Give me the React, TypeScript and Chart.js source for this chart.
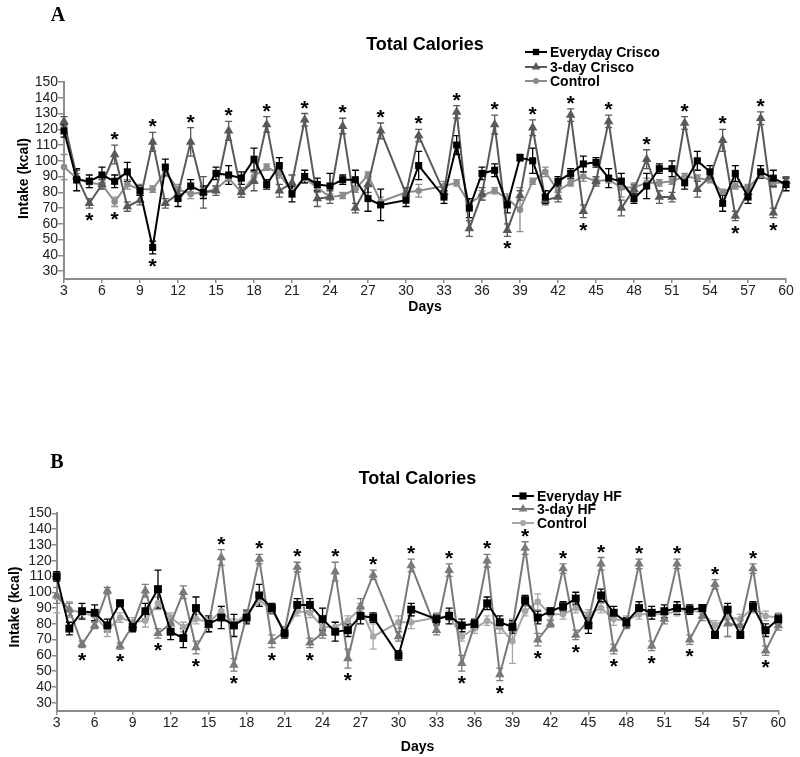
import React, { useEffect, useRef } from 'react';
import { Chart, registerables } from 'chart.js';

Chart.register(...registerables);

// ---------------- DATA ----------------
// Days 29 and 32 have no measurements in either panel
const days = [3,4,5,6,7,8,9,10,11,12,13,14,15,16,17,18,19,20,21,22,23,24,25,26,27,28,30,31,33,34,35,36,37,38,39,40,41,42,43,44,45,46,47,48,49,50,51,52,53,54,55,56,57,58,59,60];
const xTickValues = [3,6,9,12,15,18,21,24,27,30,33,36,39,42,45,48,51,54,57,60];
const yTickValues = [30,40,50,60,70,80,90,100,110,120,130,140,150];

// Panel A
const everydayCrisco = [119,88,87,91,87,93,81,45,96,76, 84,80,92,91,89,101,85,97,79,90, 85,84,88,88,76,72, 75,97, 77,110,70,92,94,72,102,100,77,87, 92,98,99,89,87,76,84,95,95,86, 100,93,73,92,77,93,89,85];
const everydayCriscoErr = [4,7,4,5,4,6,3,4,5,5, 4,4,4,6,4,7,3,5,5,4, 4,8,3,6,8,10, 4,9, 4,6,6,4,4,5,2,8,4,3, 3,5,3,6,5,3,8,3,5,4, 6,4,5,5,4,4,5,4];
const threeDayCrisco = [125,90,73,85,104,71,75,112,73,79, 112,80,81,119,80,87,123,81,86,126, 76,77,122,70,85,119, 79,116, 80,131,57,79,123,56,78,121,75,77, 129,68,87,125,70,82,101,77,77,124, 82,90,113,65,80,127,67,87];
const threeDayCriscoErr = [3,4,3,3,6,3,3,6,3,4, 9,10,3,6,3,6,5,4,5,4, 5,4,5,3,5,5, 4,4, 3,4,5,4,6,4,3,5,3,3, 4,4,3,4,5,3,6,4,3,4, 5,3,7,3,4,4,3,3];
const controlA = [96,89,86,85,74,85,82,82,93,82, 79,80,82,89,80,90,96,92,80,89, 83,77,78,82,91,74, 80,81, 84,86,73,78,81,76,69,87,93,81, 86,90,87,88,83,83,86,86,87,90, 89,88,80,84,83,91,86,86];
const controlAErr = [8,3,3,3,3,3,3,2,3,3, 3,3,2,2,3,3,2,3,3,3, 3,2,2,2,2,3, 3,4, 3,2,3,3,2,3,14,2,3,3, 2,3,2,2,6,3,3,2,2,2, 2,2,2,2,2,2,3,3];
const starsAboveA = [7,10,13,16,19,22,25,28,31,34,37,40,43,46,49,52,55,58];
const starsBelowA = [5,7,10,38,44,56,59];

// Panel B
const everydayHF = [110,77,88,87,79,93,78,88,102,75, 71,90,80,84,79,84,98,90,74,92, 92,83,75,76,85,84, 60,89, 83,85,79,80,93,81,78,95,84,88, 91,96,79,98,87,81,90,87,88,90, 89,90,73,89,73,91,76,83];
const everydayHFErr = [3,4,5,5,4,2,3,5,12,5, 6,7,5,7,7,4,7,3,3,4, 4,7,6,4,5,3, 3,4, 3,5,4,3,4,4,4,3,4,2, 3,4,5,4,4,3,4,4,4,4, 3,2,2,4,2,3,4,3];
const threeDayHF = [98,89,67,79,101,66,79,101,74,80, 100,65,79,122,54,85,121,69,75,116, 68,74,113,58,91,111, 72,117, 76,114,55,79,120,48,78,128,70,80, 115,73,82,118,64,80,118,66,83,118, 70,85,105,80,79,115,63,79];
const threeDayHFErr = [5,4,2,2,2,2,3,4,3,3, 4,4,4,5,4,4,3,4,3,3, 3,3,6,6,5,3, 3,4, 3,4,5,3,4,4,3,4,4,2, 3,3,3,4,3,3,3,3,3,3, 3,3,3,8,3,3,3,3];
const controlB = [97,89,87,85,76,84,81,82,93,84, 78,83,81,88,80,86,95,89,75,88, 87,78,78,82,90,72, 81,81, 84,85,72,77,82,78,69,88,94,86, 86,90,86,90,83,82,86,86,86,88, 89,87,79,84,83,90,85,84];
const controlBErr = [10,5,3,3,4,3,3,4,4,3, 3,3,3,3,3,3,3,3,3,3, 3,3,3,3,3,8, 4,4, 3,3,3,3,3,4,14,3,5,3, 3,3,3,3,4,3,3,3,3,3, 3,3,3,4,3,3,3,3];
const starsAboveB = [16,19,22,25,28,31,34,37,40,43,46,49,52,55,58];
const starsBelowB = [5,8,11,14,17,20,23,26,35,38,41,44,47,50,53,59];

// ---------------- STYLE ----------------
const SANS = '"Liberation Sans", Arial, Helvetica, sans-serif';
const SERIF = '"Liberation Serif", "Times New Roman", serif';
const AXIS = '#8c8c8c';

type MarkerStyle = 'rect' | 'triangle' | 'circle';
type Series = { label: string; values: number[]; errors: number[]; color: string; style: MarkerStyle; radius: number; width: number };

function capText(ctx: CanvasRenderingContext2D, text: string, x: number, y: number, size: number, family: string, align: CanvasTextAlign = 'center', capRatio = 0.716) {
  ctx.font = `bold ${size}px ${family}`;
  ctx.textAlign = align;
  ctx.textBaseline = 'alphabetic';
  ctx.fillText(text, x, y + (size * capRatio) / 2);
}

function drawMarker(ctx: CanvasRenderingContext2D, style: MarkerStyle, x: number, y: number, r: number, color: string) {
  ctx.fillStyle = color;
  ctx.beginPath();
  if (style === 'rect') {
    const s = r * Math.SQRT1_2;
    ctx.rect(x - s, y - s, 2 * s, 2 * s);
  } else if (style === 'triangle') {
    ctx.moveTo(x, y - r);
    ctx.lineTo(x + r * Math.sin(Math.PI / 3), y + r / 2);
    ctx.lineTo(x - r * Math.sin(Math.PI / 3), y + r / 2);
    ctx.closePath();
  } else {
    ctx.arc(x, y, r, 0, Math.PI * 2);
  }
  ctx.fill();
}

type PanelCfg = {
  letter: string; letterX: number; letterY: number;
  title: string; titleY: number;
  legendX: number; legendRows: number[];
  padding: { left: number; top: number; right: number; bottom: number };
  yAxisW: number; xAxisH: number; tickLenY: number;
  daysY: number; intakeX: number; intakeDy: number;
  series: Series[];
  starsAbove: number[]; starsBelow: number[];
};

const panelA: PanelCfg = {
  letter: 'A', letterX: 58, letterY: 14,
  title: 'Total Calories', titleY: 43.5,
  legendX: 525, legendRows: [52, 67, 81],
  padding: { left: 0, top: 82, right: 14, bottom: 0 },
  yAxisW: 64, xAxisH: 99, tickLenY: 6,
  daysY: 306, intakeX: 23, intakeDy: -2,
  series: [
    { label: 'Everyday Crisco', values: everydayCrisco, errors: everydayCriscoErr, color: '#000000', style: 'rect', radius: 5, width: 2 },
    { label: '3-day Crisco', values: threeDayCrisco, errors: threeDayCriscoErr, color: '#595959', style: 'triangle', radius: 5.5, width: 2 },
    { label: 'Control', values: controlA, errors: controlAErr, color: '#8c8c8c', style: 'circle', radius: 3.3, width: 2 },
  ],
  starsAbove: starsAboveA, starsBelow: starsBelowA,
};

const panelB: PanelCfg = {
  letter: 'B', letterX: 57, letterY: 83,
  title: 'Total Calories', titleY: 99.5,
  legendX: 512, legendRows: [118, 131, 145],
  padding: { left: 0, top: 135.3, right: 21.7, bottom: 0 },
  yAxisW: 56.7, xAxisH: 46.3, tickLenY: 5,
  daysY: 368, intakeX: 14, intakeDy: -5,
  series: [
    { label: 'Everyday HF', values: everydayHF, errors: everydayHFErr, color: '#000000', style: 'rect', radius: 5.6, width: 2 },
    { label: '3-day HF', values: threeDayHF, errors: threeDayHFErr, color: '#7a7a7a', style: 'triangle', radius: 5.5, width: 2 },
    { label: 'Control', values: controlB, errors: controlBErr, color: '#a6a6a6', style: 'circle', radius: 3.3, width: 2 },
  ],
  starsAbove: starsAboveB, starsBelow: starsBelowB,
};

function makeChart(canvas: HTMLCanvasElement, cfg: PanelCfg) {
  const errorBars = {
    id: 'errorBars',
    beforeDatasetsDraw(chart: any) {
      const ctx = chart.ctx;
      const ys = chart.scales.y;
      for (let di = cfg.series.length - 1; di >= 0; di--) {
        const s = cfg.series[di];
        const meta = chart.getDatasetMeta(di);
        ctx.save();
        ctx.strokeStyle = s.color;
        ctx.lineWidth = 1.3;
        meta.data.forEach((pt: any, i: number) => {
          const v = s.values[i];
          const e = s.errors[i];
          const y1 = ys.getPixelForValue(v + e);
          const y2 = ys.getPixelForValue(v - e);
          ctx.beginPath();
          ctx.moveTo(pt.x, y1); ctx.lineTo(pt.x, y2);
          ctx.moveTo(pt.x - 3.5, y1); ctx.lineTo(pt.x + 3.5, y1);
          ctx.moveTo(pt.x - 3.5, y2); ctx.lineTo(pt.x + 3.5, y2);
          ctx.stroke();
        });
        ctx.restore();
      }
    },
  };

  const annotations = {
    id: 'annotations',
    afterDraw(chart: any) {
      const ctx: CanvasRenderingContext2D = chart.ctx;
      const area = chart.chartArea;
      const xs = chart.scales.x;
      const ys = chart.scales.y;
      const cx = (area.left + area.right) / 2;
      const cy = (area.top + area.bottom) / 2;
      ctx.save();
      ctx.fillStyle = '#000';
      // panel letter
      capText(ctx, cfg.letter, cfg.letterX, cfg.letterY, 20, SERIF, 'center', 0.662);
      // title
      capText(ctx, cfg.title, cx, cfg.titleY, 18, SANS);
      // axis titles
      capText(ctx, 'Days', cx, cfg.daysY, 14, SANS);
      ctx.save();
      ctx.translate(cfg.intakeX, cy + cfg.intakeDy);
      ctx.rotate(-Math.PI / 2);
      capText(ctx, 'Intake (kcal)', 0, 0, 14, SANS);
      ctx.restore();
      // legend
      cfg.series.forEach((s, i) => {
        const y = cfg.legendRows[i];
        ctx.strokeStyle = s.color;
        ctx.lineWidth = 2;
        ctx.beginPath();
        ctx.moveTo(cfg.legendX, y);
        ctx.lineTo(cfg.legendX + 22, y);
        ctx.stroke();
        drawMarker(ctx, s.style, cfg.legendX + 11, y, s.radius * 0.9, s.color);
        ctx.fillStyle = '#000';
        capText(ctx, s.label, cfg.legendX + 25, y, 14, SANS, 'left');
      });
      // significance stars
      ctx.font = `bold 21px ${SANS}`;
      ctx.textAlign = 'center';
      ctx.textBaseline = 'alphabetic';
      const m = ctx.measureText('*');
      const shift = (m.actualBoundingBoxAscent - m.actualBoundingBoxDescent) / 2;
      const gap = 9;
      cfg.starsAbove.forEach((d) => {
        const idx = days.indexOf(d);
        const top = Math.max(...cfg.series.map((s) => s.values[idx] + s.errors[idx]));
        const yc = ys.getPixelForValue(top) - gap;
        ctx.fillText('*', xs.getPixelForValue(d), yc + shift);
      });
      cfg.starsBelow.forEach((d) => {
        const idx = days.indexOf(d);
        const bot = Math.min(...cfg.series.map((s) => s.values[idx] - s.errors[idx]));
        const yc = ys.getPixelForValue(bot) + gap;
        ctx.fillText('*', xs.getPixelForValue(d), yc + shift);
      });
      ctx.restore();
    },
  };

  return new Chart(canvas, {
    type: 'line',
    data: {
      datasets: cfg.series.map((s) => ({
        label: s.label,
        data: days.map((d, i) => ({ x: d, y: s.values[i] })),
        borderColor: s.color,
        backgroundColor: s.color,
        pointBackgroundColor: s.color,
        pointBorderColor: s.color,
        pointBorderWidth: 0,
        pointStyle: s.style,
        pointRadius: s.radius,
        borderWidth: s.width,
        tension: 0,
        fill: false,
        clip: false,
      })),
    },
    options: {
      responsive: false,
      animation: false,
      events: [],
      layout: { padding: cfg.padding },
      plugins: { legend: { display: false }, tooltip: { enabled: false }, title: { display: false } },
      scales: {
        x: {
          type: 'linear',
          min: 3,
          max: 60,
          afterBuildTicks: (axis: any) => { axis.ticks = xTickValues.map((v) => ({ value: v })); },
          afterFit: (scale: any) => { scale.height = cfg.xAxisH; },
          grid: { drawOnChartArea: false, drawTicks: true, tickLength: 4, color: AXIS, lineWidth: 1.5 },
          border: { color: AXIS, width: 2 },
          ticks: { font: { family: SANS, size: 14 }, color: '#222', padding: 0, maxRotation: 0, autoSkip: false },
        },
        y: {
          type: 'linear',
          min: 25,
          max: 150,
          afterBuildTicks: (axis: any) => { axis.ticks = yTickValues.map((v) => ({ value: v })); },
          afterFit: (scale: any) => { scale.width = cfg.yAxisW; },
          grid: { drawOnChartArea: false, drawTicks: true, tickLength: cfg.tickLenY, color: AXIS, lineWidth: 1.5 },
          border: { color: AXIS, width: 2 },
          ticks: { font: { family: SANS, size: 14 }, color: '#222', padding: 0, autoSkip: false },
        },
      },
    } as any,
    plugins: [errorBars, annotations],
  });
}

function Panel({ cfg, top, height }: { cfg: PanelCfg; top: number; height: number }) {
  const ref = useRef<HTMLCanvasElement | null>(null);
  useEffect(() => {
    if (!ref.current) return;
    const chart = makeChart(ref.current, cfg);
    return () => chart.destroy();
  }, [cfg]);
  return (
    <canvas
      ref={ref}
      width={800}
      height={height}
      style={{ position: 'absolute', left: 0, top, width: 800, height, display: 'block' }}
    />
  );
}

export default function App() {
  return (
    <div style={{ position: 'absolute', left: 0, top: 0, width: 800, height: 757, background: '#fff' }}>
      <Panel cfg={panelA} top={0} height={378} />
      <Panel cfg={panelB} top={378} height={379} />
    </div>
  );
}
